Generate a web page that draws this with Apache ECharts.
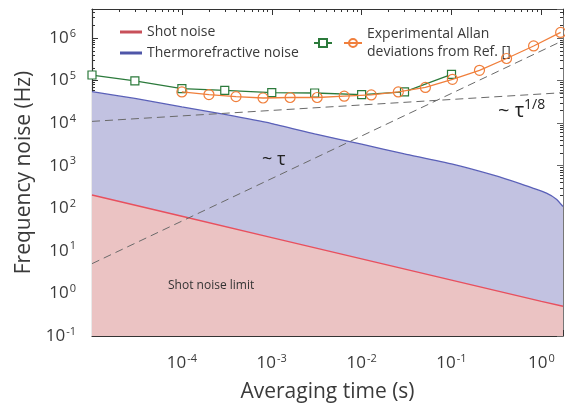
<!DOCTYPE html>
<html>
<head>
<meta charset="utf-8">
<script src="https://cdn.jsdelivr.net/npm/echarts@6/dist/echarts.min.js"></script>
<style>
html,body{margin:0;padding:0;background:#fff;}
#chart{width:565px;height:403px;}
</style>
</head>
<body>
<div id="chart"></div>
<script>
// ---------- data ----------
const tauShot = [1e-5, 1e-4, 1e-3, 1e-2, 1e-1, 1, 1.74];
const shotNoise = [205, 65, 20.5, 6.5, 2.05, 0.65, 0.5];

const tauThermo = [1e-5, 3e-5, 1e-4, 3e-4, 1e-3, 3e-3, 1e-2, 3e-2, 0.1, 0.3, 0.6, 0.8, 1.14, 1.47, 1.74];
const thermoNoise = [5.5e4, 3.8e4, 2.4e4, 1.6e4, 9.8e3, 5.6e3, 3.2e3, 1.9e3, 1.1e3, 590, 370, 298, 227, 164, 110];

const tauGreen = [1e-5, 3e-5, 1e-4, 3e-4, 1e-3, 3e-3, 1e-2, 3e-2, 1e-1];
const allanGreen = [1.35e5, 9.8e4, 6.5e4, 5.9e4, 5.2e4, 5.1e4, 4.7e4, 5.4e4, 1.4e5];

const tauOrange = [1e-4, 2e-4, 4e-4, 8e-4, 1.6e-3, 3.2e-3, 6.4e-3, 1.28e-2, 2.56e-2, 5.12e-2, 0.1024, 0.2048, 0.4096, 0.8192, 1.6384];
const allanOrange = [5.4e4, 4.7e4, 4.2e4, 3.9e4, 4.0e4, 4.0e4, 4.3e4, 4.6e4, 5.4e4, 6.9e4, 1.07e5, 1.74e5, 3.3e5, 6.5e5, 1.35e6];

const tauDash = [1e-5, 1.74];
const slopeTau = [5.0, 8.7e5];
const slopeEighth = [1.1e4, 5.2e4];

const xMin = 1e-5, xMax = 1.74;
const yMin = 0.1, yMax = 4.8e6;
const xDecades = [-5, -4, -3, -2, -1, 0];
const yDecades = [-1, 0, 1, 2, 3, 4, 5, 6];

// ---------- helpers ----------
const pair = (xs, ys) => xs.map((x, i) => [x, ys[i]]);
function minorLogValues(decades, lo, hi) {
  const out = [];
  decades.forEach(d => {
    for (let k = 2; k <= 9; k++) {
      const e = d + Math.log10(k);
      if (e > lo && e < hi) out.push(e);
    }
  });
  return out;
}
const FONT = '"Open Sans", "Noto Sans", sans-serif';
const TXT = '#3a3a3a';
function powLabel(v) {
  const e = Math.log10(v);
  const r = Math.round(e);
  if (Math.abs(e - r) > 1e-6) return '';
  return '{b|10}{s|' + (r < 0 ? '-' + (-r) : r) + '}';
}
const richLab = {
  b: { fontSize: 17, fontFamily: FONT, color: TXT },
  s: { fontSize: 11, fontFamily: FONT, color: TXT, padding: [0, 0, 9, 1] }
};
const lxLo = Math.log10(xMin), lxHi = Math.log10(xMax);
const lyLo = Math.log10(yMin), lyHi = Math.log10(yMax);
const xMinor = minorLogValues(xDecades, lxLo, lxHi);
const yMinor = minorLogValues(yDecades, lyLo, lyHi);

const frameColor = '#333';
function minorAxis(pos, lo, hi, vals) {
  return {
    type: 'value', position: pos, min: lo, max: hi, gridIndex: 0,
    axisLine: { show: false, onZero: false }, splitLine: { show: false },
    axisLabel: { show: false },
    axisTick: { show: true, inside: true, length: 3, customValues: vals, lineStyle: { color: frameColor, width: 1 } }
  };
}

const chart = echarts.init(document.getElementById('chart'), null, { renderer: 'canvas' });
const option = {
  backgroundColor: '#fff',
  animation: false,
  grid: { left: 92, right: 2, top: 9, bottom: 67, containLabel: false, outerBoundsMode: 'none' },
  xAxis: [
    {
      type: 'log', logBase: 10, min: xMin, max: xMax, position: 'bottom',
      name: 'Averaging time (s)', nameLocation: 'middle', nameGap: 46,
      nameTextStyle: { fontSize: 21, fontFamily: FONT, color: TXT },
      axisLine: { show: true, onZero: false, lineStyle: { color: frameColor, width: 1.2 } },
      axisTick: { show: true, inside: true, length: 6, lineStyle: { color: frameColor } },
      axisLabel: { margin: 17, showMinLabel: false, formatter: powLabel, rich: richLab },
      splitLine: { show: false }, minorTick: { show: false }
    },
    {
      type: 'log', logBase: 10, min: xMin, max: xMax, position: 'top',
      axisLine: { show: true, onZero: false, lineStyle: { color: frameColor, width: 1.2 } },
      axisTick: { show: true, inside: true, length: 6, lineStyle: { color: frameColor } },
      axisLabel: { show: false }, splitLine: { show: false }
    },
    minorAxis('bottom', lxLo, lxHi, xMinor),
    minorAxis('top', lxLo, lxHi, xMinor)
  ],
  yAxis: [
    {
      type: 'log', logBase: 10, min: yMin, max: yMax, position: 'left',
      name: 'Frequency noise (Hz)', nameLocation: 'middle', nameGap: 56,
      nameTextStyle: { fontSize: 21, fontFamily: FONT, color: TXT },
      axisLine: { show: true, onZero: false, lineStyle: { color: frameColor, width: 1.2 } },
      axisTick: { show: true, inside: true, length: 6, lineStyle: { color: frameColor } },
      axisLabel: { margin: 16, formatter: powLabel, rich: richLab },
      splitLine: { show: false }
    },
    {
      type: 'log', logBase: 10, min: yMin, max: yMax, position: 'right',
      axisLine: { show: true, onZero: false, lineStyle: { color: '#777', width: 1 } },
      axisTick: { show: true, inside: true, length: 6, lineStyle: { color: '#666' } },
      axisLabel: { show: false }, splitLine: { show: false }
    },
    minorAxis('left', lyLo, lyHi, yMinor),
    minorAxis('right', lyLo, lyHi, yMinor)
  ],
  legend: [
    {
      orient: 'vertical', left: 115, top: 20, itemGap: 7,
      itemWidth: 22, itemHeight: 3, icon: 'rect',
      textStyle: { fontSize: 14, fontFamily: FONT, color: TXT },
      data: [
        { name: 'Shot noise', itemStyle: { color: '#c8505a' } },
        { name: 'Thermorefractive noise', itemStyle: { color: '#4f56a8' } }
      ]
    },
    {
      orient: 'horizontal', left: 308, top: 20, itemGap: 6,
      itemWidth: 18, itemHeight: 10,
      textStyle: { fontSize: 14, fontFamily: FONT, color: TXT, lineHeight: 18 },
      formatter: function (n) { return n === 'greenAllan' ? '' : 'Experimental Allan\ndeviations from Ref. []'; },
      data: ['greenAllan', 'orangeAllan']
    }
  ],
  graphic: [
    { type: 'text', left: 262, top: 151, style: { text: '~ τ', font: '18px "Open Sans", sans-serif', fill: '#222' }, z: 100 },
    { type: 'text', left: 498, top: 98, style: {
        text: '{a|~ τ}{b|1/8}',
        rich: { a: { fontSize: 20, fontFamily: FONT, fill: '#222' }, b: { fontSize: 14, fontFamily: FONT, fill: '#222', padding: [0, 0, 13, 0] } }
      }, z: 100 },
    { type: 'text', left: 168, top: 280, style: { text: 'Shot noise limit', font: '12px "Open Sans", sans-serif', fill: '#333' }, z: 100 }
  ],
  series: [
    {
      name: 'Thermorefractive noise', type: 'line', data: pair(tauThermo, thermoNoise),
      showSymbol: false, smooth: 0.15, z: 2,
      lineStyle: { color: '#5a60b8', width: 1.3 },
      itemStyle: { color: '#5a60b8' },
      areaStyle: { color: '#c2c2e1', opacity: 1, origin: 'start' }
    },
    {
      name: 'Shot noise', type: 'line', data: pair(tauShot, shotNoise),
      showSymbol: false, z: 3,
      lineStyle: { color: '#e8505e', width: 1.4 },
      itemStyle: { color: '#e8505e' },
      areaStyle: { color: '#ebc3c3', opacity: 1, origin: 'start' }
    },
    {
      name: 'slopeTau', type: 'line', data: pair(tauDash, slopeTau), showSymbol: false, z: 4,
      lineStyle: { color: '#6a6a6a', width: 1, type: [8, 5] }, silent: true
    },
    {
      name: 'slopeEighth', type: 'line', data: pair(tauDash, slopeEighth), showSymbol: false, z: 4,
      lineStyle: { color: '#6a6a6a', width: 1, type: [8, 5] }, silent: true
    },
    {
      name: 'greenAllan', type: 'line', data: pair(tauGreen, allanGreen), z: 5,
      symbol: 'rect', symbolSize: 8,
      lineStyle: { color: '#2b7a3b', width: 1.3 },
      itemStyle: { color: '#ffffff', borderColor: '#2b7a3b', borderWidth: 1.2 }
    },
    {
      name: 'orangeAllan', type: 'line', data: pair(tauOrange, allanOrange), z: 6,
      symbol: 'circle', symbolSize: 10,
      lineStyle: { color: '#f07f3c', width: 1.3 },
      itemStyle: { color: 'rgba(255,255,255,0)', borderColor: '#f07f3c', borderWidth: 1.2 }
    }
  ]
};
chart.setOption(option);
</script>
</body>
</html>
